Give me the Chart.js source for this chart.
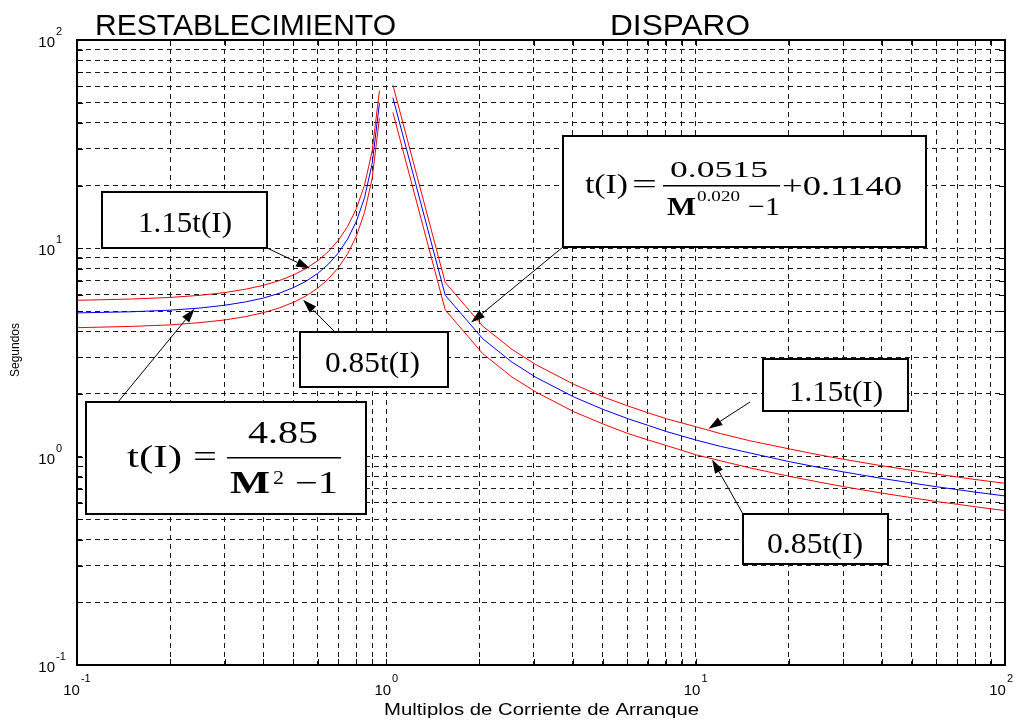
<!DOCTYPE html>
<html>
<head>
<meta charset="utf-8">
<script src="https://cdn.jsdelivr.net/npm/chart.js@4.4.0/dist/chart.umd.min.js"></script>
<style>
html, body { margin: 0; padding: 0; background: #fff; }
#wrap { width: 1023px; height: 721px; }
</style>
</head>
<body>
<div id="wrap"><canvas id="relayChart" width="1023" height="721"></canvas></div>
<script>
// Restablecimiento (M < 1)
const mReset = [0.10, 0.15, 0.20, 0.25, 0.30, 0.35, 0.40, 0.45, 0.50, 0.55, 0.60, 0.65, 0.70, 0.75, 0.80, 0.85, 0.90, 0.95];
const tReset = [4.90, 4.96, 5.05, 5.17, 5.33, 5.53, 5.77, 6.08, 6.47, 6.95, 7.58, 8.40, 9.51, 11.09, 13.47, 17.48, 25.53, 49.74];
const tResetHi = [5.63, 5.71, 5.81, 5.95, 6.13, 6.36, 6.64, 6.99, 7.44, 8.00, 8.72, 9.66, 10.94, 12.75, 15.49, 20.10, 29.36, 57.21];
const tResetLo = [4.16, 4.22, 4.29, 4.40, 4.53, 4.70, 4.91, 5.17, 5.50, 5.91, 6.44, 7.14, 8.08, 9.42, 11.45, 14.86, 21.70, 42.28];

// Disparo (M > 1)
const mTrip = [1.05, 1.55, 2.05, 2.55, 3.05, 4.05, 5.05, 6.05, 7.05, 8.05, 10.05, 12.05, 15.05, 20.05, 25.05, 30.05, 40.05, 50.05, 60.05, 70.05, 80.05, 90.05, 100];
const tTrip = [52.86, 5.96, 3.68, 2.84, 2.40, 1.93, 1.68, 1.52, 1.41, 1.32, 1.20, 1.12, 1.04, 0.947, 0.888, 0.845, 0.786, 0.747, 0.717, 0.695, 0.676, 0.661, 0.648];
const tTripHi = [60.79, 6.86, 4.23, 3.27, 2.76, 2.22, 1.93, 1.75, 1.62, 1.52, 1.39, 1.29, 1.19, 1.09, 1.02, 0.972, 0.904, 0.859, 0.825, 0.799, 0.777, 0.760, 0.745];
const tTripLo = [44.93, 5.07, 3.12, 2.41, 2.04, 1.64, 1.43, 1.29, 1.20, 1.13, 1.02, 0.955, 0.882, 0.805, 0.755, 0.718, 0.668, 0.635, 0.609, 0.591, 0.575, 0.562, 0.551];

// axis ticks
const decades = [0.1, 1, 10, 100];
const decadeExp = ['-1', '0', '1', '2'];
const steps = [1, 2, 3, 4, 5, 6, 7, 8, 9];

const gridValues = [];
decades.forEach(d => {
    if (d === 100) { gridValues.push(100); return; }
    steps.forEach(s => gridValues.push(+(d * s).toPrecision(3)));
});

function pts(xs, ys) {
    return xs.map((x, i) => ({ x: x, y: ys[i] }));
}

function drawFit(ctx, text, left, right, baseline, font) {
    ctx.save();
    ctx.font = font;
    const w = ctx.measureText(text).width;
    ctx.translate(left, baseline);
    ctx.scale((right - left) / w, 1);
    ctx.textAlign = 'left';
    ctx.textBaseline = 'alphabetic';
    ctx.fillStyle = '#000';
    ctx.fillText(text, 0, 0);
    ctx.restore();
}

function box(ctx, x1, y1, x2, y2) {
    ctx.save();
    ctx.fillStyle = '#fff';
    ctx.fillRect(x1, y1, x2 - x1, y2 - y1);
    ctx.strokeStyle = '#000';
    ctx.lineWidth = 2;
    ctx.strokeRect(x1, y1, x2 - x1, y2 - y1);
    ctx.restore();
}

function arrow(ctx, x0, y0, x1, y1) {
    const a = Math.atan2(y1 - y0, x1 - x0);
    const len = 14, half = 4.5;
    ctx.save();
    ctx.strokeStyle = '#000';
    ctx.fillStyle = '#000';
    ctx.lineWidth = 1;
    ctx.beginPath();
    ctx.moveTo(x0, y0);
    ctx.lineTo(x1 - len * Math.cos(a), y1 - len * Math.sin(a));
    ctx.stroke();
    ctx.beginPath();
    ctx.moveTo(x1, y1);
    ctx.lineTo(x1 - len * Math.cos(a) + half * Math.sin(a), y1 - len * Math.sin(a) - half * Math.cos(a));
    ctx.lineTo(x1 - len * Math.cos(a) - half * Math.sin(a), y1 - len * Math.sin(a) + half * Math.cos(a));
    ctx.closePath();
    ctx.fill();
    ctx.restore();
}

// frame, inner ticks, labels and the annotation boxes
const decorPlugin = {
    id: 'decor',
    afterDraw(chart) {
        const ctx = chart.ctx;
        const a = chart.chartArea;
        const xs = chart.scales.x, ys = chart.scales.y;

        // inner tick marks on all four sides
        ctx.save();
        ctx.strokeStyle = '#000';
        ctx.lineWidth = 1;
        ctx.beginPath();
        gridValues.forEach(v => {
            const px = Math.round(xs.getPixelForValue(v)) + 0.5;
            ctx.moveTo(px, a.top); ctx.lineTo(px, a.top + 6);
            ctx.moveTo(px, a.bottom); ctx.lineTo(px, a.bottom - 6);
            const py = Math.round(ys.getPixelForValue(v)) + 0.5;
            ctx.moveTo(a.left, py); ctx.lineTo(a.left + 6, py);
            ctx.moveTo(a.right, py); ctx.lineTo(a.right - 6, py);
        });
        ctx.stroke();
        ctx.lineWidth = 2;
        ctx.strokeRect(a.left, a.top, a.right - a.left, a.bottom - a.top);
        ctx.restore();

        // decade labels with superscripts
        const baseFont = '15px "Liberation Sans", Arial, sans-serif';
        const expFont = '11px "Liberation Sans", Arial, sans-serif';
        ctx.save();
        ctx.fillStyle = '#000';
        ctx.textBaseline = 'alphabetic';
        decades.forEach((d, i) => {
            const py = ys.getPixelForValue(d);
            ctx.font = baseFont;
            ctx.textAlign = 'right';
            ctx.fillText('10', 55, py + 7);
            ctx.font = expFont;
            ctx.textAlign = 'left';
            ctx.fillText(decadeExp[i], 56, py - 5);

            const px = xs.getPixelForValue(d);
            ctx.font = baseFont;
            const wb = ctx.measureText('10').width;
            ctx.font = expFont;
            const we = ctx.measureText(decadeExp[i]).width;
            const left = Math.min(px - (wb + we + 1) / 2, 1012 - wb - we);
            ctx.font = baseFont;
            ctx.fillText('10', left, 695);
            ctx.font = expFont;
            ctx.fillText(decadeExp[i], left + wb + 1, 682);
        });
        ctx.restore();

        // axis titles
        drawFit(ctx, 'Multiplos de Corriente de Arranque', 384, 699, 715, '16px "Liberation Sans", Arial, sans-serif');
        ctx.save();
        ctx.translate(19, 350);
        ctx.rotate(-Math.PI / 2);
        ctx.font = '12px "Liberation Sans", Arial, sans-serif';
        ctx.textAlign = 'center';
        ctx.fillStyle = '#000';
        ctx.fillText('Segundos', 0, 0);
        ctx.restore();

        // region titles
        drawFit(ctx, 'RESTABLECIMIENTO', 95, 396, 35, '30px "Liberation Sans", Arial, sans-serif');
        drawFit(ctx, 'DISPARO', 610, 750, 35, '30px "Liberation Sans", Arial, sans-serif');

        const serif = '"Liberation Serif", "Times New Roman", serif';
        const X = v => xs.getPixelForValue(v);
        const Y = v => ys.getPixelForValue(v);

        // 1.15t(I) left
        arrow(ctx, 267, 248, X(0.567), Y(8.0));
        box(ctx, 102, 192, 267, 248);
        drawFit(ctx, '1.15t(I)', 138, 232, 232, '30px ' + serif);

        // 0.85t(I) left
        arrow(ctx, 335, 332, X(0.538), Y(5.67));
        box(ctx, 300, 332, 448, 387);
        drawFit(ctx, '0.85t(I)', 325, 420, 372, '30px ' + serif);

        // reset formula
        arrow(ctx, 118, 402, X(0.24), Y(5.13));
        box(ctx, 86, 402, 366, 514);
        drawFit(ctx, 't(I)', 127, 182, 467, '32px ' + serif);
        drawFit(ctx, '=', 193, 217, 467, '32px ' + serif);
        drawFit(ctx, '4.85', 248, 318, 443, '31px ' + serif);
        drawFit(ctx, 'M', 230, 270, 493, 'bold 31px ' + serif);
        drawFit(ctx, '2', 273, 284, 484, '18px ' + serif);
        drawFit(ctx, '\u22121', 295, 338, 493, '31px ' + serif);
        ctx.save();
        ctx.fillStyle = '#000';
        ctx.fillRect(227, 457, 114, 1.5);
        ctx.restore();

        // trip formula
        arrow(ctx, 563, 247, X(1.88), Y(4.40));
        box(ctx, 563, 136, 926, 247);
        drawFit(ctx, 't(I)', 585, 628, 193, '27px ' + serif);
        drawFit(ctx, '=', 632, 657, 193, '27px ' + serif);
        drawFit(ctx, '0.0515', 670, 768, 177, '24px ' + serif);
        drawFit(ctx, 'M', 667, 696, 215, 'bold 26px ' + serif);
        drawFit(ctx, '0.020', 697, 740, 201, '14px ' + serif);
        drawFit(ctx, '\u22121', 748, 780, 215, '26px ' + serif);
        drawFit(ctx, '+0.1140', 782, 902, 195, '28px ' + serif);
        ctx.save();
        ctx.fillStyle = '#000';
        ctx.fillRect(663, 185, 117, 1.5);
        ctx.restore();

        // 1.15t(I) right
        arrow(ctx, 750, 402, X(11.0), Y(1.36));
        box(ctx, 763, 359, 908, 411);
        drawFit(ctx, '1.15t(I)', 789, 883, 401, '30px ' + serif);

        // 0.85t(I) right
        arrow(ctx, 743, 514, X(11.3), Y(0.97));
        box(ctx, 743, 514, 888, 564);
        drawFit(ctx, '0.85t(I)', 767, 863, 553, '30px ' + serif);
    }
};

const lineStyle = (color) => ({
    borderColor: color,
    backgroundColor: color,
    borderWidth: 1,
    pointRadius: 0,
    fill: false,
    tension: 0
});

const axisOpts = () => ({
    type: 'logarithmic',
    min: 0.1,
    max: 100,
    ticks: { display: false },
    grid: { color: '#1a1a1a', lineWidth: 1, drawTicks: false },
    border: { display: false, dash: [5, 4] },
    afterBuildTicks: (scale) => { scale.ticks = gridValues.map(v => ({ value: v })); }
});

new Chart(document.getElementById('relayChart'), {
    type: 'line',
    data: {
        datasets: [
            Object.assign({ label: '1.15t(I) rest.', data: pts(mReset, tResetHi) }, lineStyle('#ff0000')),
            Object.assign({ label: '0.85t(I) rest.', data: pts(mReset, tResetLo) }, lineStyle('#ff0000')),
            Object.assign({ label: 't(I) rest.', data: pts(mReset, tReset) }, lineStyle('#0000ff')),
            Object.assign({ label: '1.15t(I) disp.', data: pts(mTrip, tTripHi) }, lineStyle('#ff0000')),
            Object.assign({ label: '0.85t(I) disp.', data: pts(mTrip, tTripLo) }, lineStyle('#ff0000')),
            Object.assign({ label: 't(I) disp.', data: pts(mTrip, tTrip) }, lineStyle('#0000ff'))
        ]
    },
    options: {
        responsive: false,
        animation: false,
        layout: { padding: { left: 77, right: 18, top: 40, bottom: 56 } },
        plugins: {
            legend: { display: false },
            tooltip: { enabled: false }
        },
        scales: {
            x: axisOpts(),
            y: axisOpts()
        }
    },
    plugins: [decorPlugin]
});
</script>
</body>
</html>
